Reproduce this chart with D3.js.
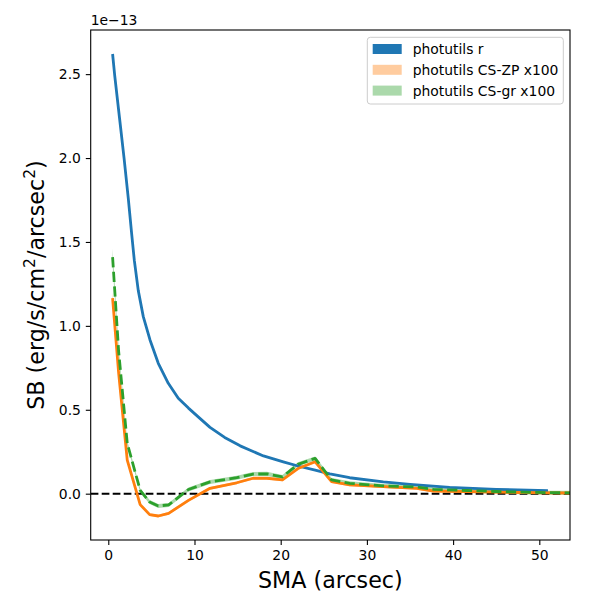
<!DOCTYPE html>
<html><head><meta charset="utf-8">
<script src="https://cdn.jsdelivr.net/npm/d3@7"></script>
<style>body{margin:0;background:#fff}svg{display:block}text{font-family:"DejaVu Sans",sans-serif}</style>
</head><body>
<svg id="c" width="600" height="600"></svg>
<script>
// Data (SB in units of 1e-13)
const smaR = [0.5,0.75,1.3,1.83,2.32,2.71,3.02,3.48,4.06,4.84,5.8,6.96,8.12,9.3,10.4,11.8,13.5,15.3,16.4,18,20.3,22,24,25.7,28,31.9,35,39.6,45,51];
const sbR  = [2.62,2.49,2.24,2.0,1.76,1.55,1.39,1.21,1.055,0.916,0.777,0.658,0.569,0.51,0.459,0.395,0.335,0.285,0.26,0.225,0.19,0.165,0.14,0.118,0.095,0.07,0.055,0.038,0.026,0.018];
const errR = smaR.map(()=>0.004);
const smaCS = [0.5,1.2,2.2,3.7,4.8,5.8,7.0,9.3,11.8,14.9,16.8,18.4,20.2,22.0,24.0,25.9,28.0,31.9,35.8,37.7,41.6,45,48,51,54];
const sbZP  = [1.165,0.72,0.20,-0.065,-0.125,-0.133,-0.117,-0.04,0.032,0.065,0.092,0.092,0.082,0.15,0.19,0.072,0.052,0.042,0.032,0.016,0.012,0.009,0.007,0.005,0.004];
const errZP = [0.035,0.02,0.01,0.008,0.008,0.008,0.008,0.008,0.008,0.008,0.008,0.008,0.008,0.008,0.008,0.008,0.008,0.008,0.008,0.008,0.008,0.008,0.008,0.008,0.008];
const sbGR  = [1.41,0.85,0.30,0.02,-0.05,-0.073,-0.067,0.025,0.07,0.095,0.117,0.118,0.10,0.175,0.21,0.082,0.062,0.046,0.04,0.026,0.019,0.013,0.009,0.006,0.005];
const errGR = [0.05,0.03,0.015,0.012,0.012,0.012,0.012,0.012,0.012,0.012,0.012,0.012,0.012,0.012,0.012,0.012,0.012,0.012,0.012,0.012,0.012,0.012,0.012,0.012,0.012];
const xTicks = [0,10,20,30,40,50];
const yTicks = [0,0.5,1.0,1.5,2.0,2.5];
const legendLabels = ["photutils r","photutils CS-ZP x100","photutils CS-gr x100"];
const colors = ["#1f77b4","#ff7f0e","#2ca02c"];

const svg = d3.select("#c");
const L=90.7, R=570, T=30, B=540;
const x = d3.scaleLinear().domain([-2.04,53.56]).range([L,R]);
const y = d3.scaleLinear().domain([-0.276,2.763]).range([B,T]);

svg.append("defs").append("clipPath").attr("id","clip").append("rect")
  .attr("x",L).attr("y",T).attr("width",R-L).attr("height",B-T);
const g = svg.append("g").attr("clip-path","url(#clip)");

const series = [
  {sma:smaR, v:sbR, e:errR, c:colors[0], dash:null},
  {sma:smaCS, v:sbZP, e:errZP, c:colors[1], dash:null},
  {sma:smaCS, v:sbGR, e:errGR, c:colors[2], dash:"10.3,4.4"}
];
const area = d3.area().x(d=>x(d[0])).y0(d=>y(d[1]-d[2])).y1(d=>y(d[1]+d[2]));
const line = d3.line().x(d=>x(d[0])).y(d=>y(d[1]));
series.forEach((s,i)=>{
  const pts = s.sma.map((a,j)=>[a,s.v[j],s.e[j]]);
  g.append("path").attr("d",area(pts)).attr("fill",s.c).attr("opacity",i===0?1:0.4);
});
// zero line
g.append("line").attr("x1",L).attr("x2",R).attr("y1",y(0)).attr("y2",y(0))
  .attr("stroke","#000").attr("stroke-width",2).attr("stroke-dasharray","7.7,3.3");
series.forEach(s=>{
  const pts = s.sma.map((a,j)=>[a,s.v[j]]);
  const p = g.append("path").attr("d",line(pts)).attr("fill","none").attr("stroke",s.c)
    .attr("stroke-width",2.8).attr("stroke-linejoin","round");
  if(s.dash) p.attr("stroke-dasharray",s.dash);
});

// axes
const xa = svg.append("g").attr("transform",`translate(0,${B})`)
  .call(d3.axisBottom(x).tickValues(xTicks).tickSize(4.9).tickPadding(4.9).tickSizeOuter(0));
const ya = svg.append("g").attr("transform",`translate(${L},0)`)
  .call(d3.axisLeft(y).tickValues(yTicks).tickFormat(d3.format(".1f")).tickSize(4.9).tickPadding(4.9).tickSizeOuter(0));
[xa,ya].forEach(a=>{
  a.select(".domain").remove();
  a.selectAll("text").attr("font-size","13.9px").attr("fill","#000").attr("font-family","DejaVu Sans");
  a.selectAll("line").attr("stroke","#000").attr("stroke-width",1.1);
});
svg.append("rect").attr("x",L).attr("y",T).attr("width",R-L).attr("height",B-T)
  .attr("fill","none").attr("stroke","#000").attr("stroke-width",1.1);

// labels
svg.append("text").attr("x",(L+R)/2).attr("y",588).attr("text-anchor","middle")
  .attr("font-size","22.2px").text("SMA (arcsec)");
const yl = svg.append("text").attr("transform",`translate(44,${(T+B)/2}) rotate(-90)`)
  .attr("text-anchor","middle").attr("font-size","22.2px");
yl.append("tspan").text("SB (erg/s/cm");
yl.append("tspan").attr("font-size","15.5px").attr("dy",-9).text("2");
yl.append("tspan").attr("dy",9).text("/arcsec");
yl.append("tspan").attr("font-size","15.5px").attr("dy",-9).text("2");
yl.append("tspan").attr("dy",9).text(")");
svg.append("text").attr("x",L).attr("y",25).attr("font-size","13.9px").text("1e\u221213");

// legend
const lg = svg.append("g");
lg.append("rect").attr("x",367.3).attr("y",37.3).attr("width",196).attr("height",66.7)
  .attr("rx",3).attr("fill","#fff").attr("fill-opacity",0.8).attr("stroke","#ccc").attr("stroke-width",1);
legendLabels.forEach((t,i)=>{
  const cy = 49 + i*20.8;
  lg.append("rect").attr("x",372.7).attr("y",cy-5).attr("width",29).attr("height",10)
    .attr("fill",colors[i]).attr("opacity",i===0?1:0.4);
  lg.append("text").attr("x",412.7).attr("y",cy+5).attr("font-size","13.9px").text(t);
});
</script>
</body></html>
